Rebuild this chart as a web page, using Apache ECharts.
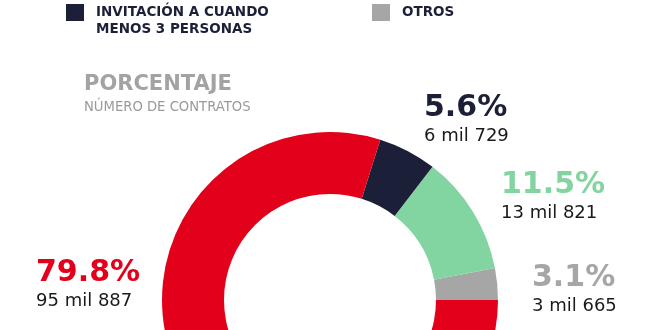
<!DOCTYPE html>
<html>
<head>
<meta charset="utf-8">
<script src="https://cdn.jsdelivr.net/npm/echarts@6/dist/echarts.min.js"></script>
<style>
html,body{margin:0;padding:0;background:#fff;}
#c{width:660px;height:330px;}
</style>
</head>
<body>
<div id="c"></div>
<script>
// Data (order: counter-clockwise from 3 o'clock)
const categories = ['OTROS', 'LICITACIÓN PÚBLICA', 'INVITACIÓN A CUANDO\nMENOS 3 PERSONAS', 'ADJUDICACIÓN DIRECTA'];
const contracts = [3665, 13821, 6729, 95887];
const sliceColors = ['#a6a6a6', '#82d5a0', '#1c1f38', '#e3001b'];
const legendShown = ['INVITACIÓN A CUANDO\nMENOS 3 PERSONAS', 'OTROS'];
const titleText = 'PORCENTAJE';
const subtitleText = 'NÚMERO DE CONTRATOS';

const labelPos = [
  {x: 532, y: 260},
  {x: 501, y: 167},
  {x: 424, y: 90},
  {x: 36, y: 255}
];

function fmtMil(v) {
  const th = Math.floor(v / 1000);
  const rest = String(v % 1000).padStart(3, '0');
  return th + ' mil ' + rest;
}

const rich = {
  n: {fontFamily: 'DejaVu Sans', fontSize: 18, fontWeight: 'normal', color: '#1a1a1a', lineHeight: 20}
};
sliceColors.forEach((c, i) => {
  rich['p' + i] = {fontFamily: 'DejaVu Sans', fontSize: 30, fontWeight: 'bold', color: c, lineHeight: 36};
});

const chart = echarts.init(document.getElementById('c'), null, {renderer: 'canvas'});
const legendBase = {
  orient: 'horizontal',
  icon: 'rect',
  itemWidth: 18,
  itemHeight: 17,
  padding: 0,
  itemGap: 13,
  selectedMode: false,
  textStyle: {fontFamily: 'DejaVu Sans', fontSize: 13.5, fontWeight: 'bold', color: '#1c1f38', lineHeight: 17, padding: [0, 0, 0, 7]}
};
chart.setOption({
  backgroundColor: '#ffffff',
  animation: false,
  title: {
    text: titleText,
    subtext: subtitleText,
    left: 84,
    top: 74,
    padding: 0,
    itemGap: 6,
    textStyle: {fontFamily: 'DejaVu Sans', fontSize: 21, fontWeight: 'bold', color: '#a3a3a3', lineHeight: 21},
    subtextStyle: {fontFamily: 'DejaVu Sans', fontSize: 13.2, fontWeight: 'normal', color: '#9a9a9a', lineHeight: 13}
  },
  legend: [
    Object.assign({}, legendBase, {
      data: [legendShown[0]], left: 66, top: -13,
      formatter: name => '\n' + name
    }),
    Object.assign({}, legendBase, {data: [legendShown[1]], left: 372, top: 4})
  ],
  series: [{
    type: 'pie',
    center: [330, 300],
    radius: [106, 168],
    startAngle: 0,
    clockwise: false,
    percentPrecision: 1,
    avoidLabelOverlap: false,
    data: categories.map((name, i) => ({name: name, value: contracts[i], itemStyle: {color: sliceColors[i]}})),
    label: {
      show: true,
      position: 'outside',
      formatter: p => '{p' + p.dataIndex + '|' + p.percent.toFixed(1) + '%}\n{n|' + fmtMil(p.value) + '}',
      rich: rich
    },
    labelLine: {show: false},
    labelLayout: params => ({
      x: labelPos[params.dataIndex].x,
      y: labelPos[params.dataIndex].y,
      align: 'left',
      verticalAlign: 'top'
    }),
    emphasis: {disabled: true}
  }]
});
</script>
</body>
</html>
